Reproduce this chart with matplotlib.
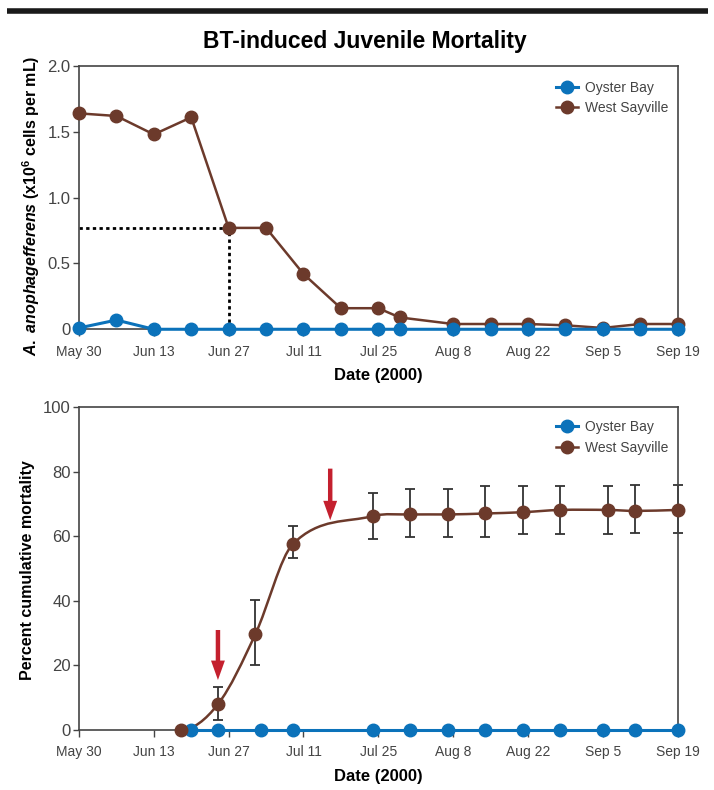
"""
BT-induced juvenile mortality: A. anophagefferens density and cumulative
mortality at Oyster Bay vs West Sayville (summer 2000).
"""
import matplotlib
matplotlib.use("Agg")
import matplotlib.pyplot as plt
from matplotlib.lines import Line2D
from matplotlib.path import Path
from matplotlib.patches import PathPatch
import numpy as np

# days counted from May 30, 2000
TICK_DAYS = [0, 14, 28, 42, 56, 70, 84, 98, 112]
TICK_LABELS = ["May 30", "Jun 13", "Jun 27", "Jul 11", "Jul 25",
               "Aug 8", "Aug 22", "Sep 5", "Sep 19"]

# top panel: cell density (x10^6 cells per mL)
cell_days = [0, 7, 14, 21, 28, 35, 42, 49, 56, 60, 70, 77, 84, 91, 98, 105, 112]
cells_oyster = [0.01, 0.07, 0, 0, 0, 0, 0, 0, 0, 0, 0, 0, 0, 0, 0, 0, 0]
cells_west = [1.64, 1.62, 1.48, 1.61, 0.77, 0.77, 0.42, 0.16, 0.16, 0.09,
              0.04, 0.04, 0.04, 0.03, 0.01, 0.04, 0.04]
half_day = 28
half_level = 0.77

# bottom panel: percent cumulative mortality
mort_days_west = [19, 26, 33, 40, 55, 62, 69, 76, 83, 90, 99, 104, 112]
mort_west = [0, 8, 29.7, 57.6, 66.3, 66.8, 66.8, 67.1, 67.5, 68.2, 68.2, 67.9, 68.2]
err_hi = [0, 13.2, 40.3, 63.2, 73.5, 74.6, 74.6, 75.6, 75.6, 75.6, 75.6, 75.9, 75.9]
err_lo = [0, 3.1, 20.1, 53.2, 59.1, 59.9, 59.9, 59.9, 60.9, 60.9, 60.9, 61.1, 61.1]
mort_days_oyster = [21, 26, 34, 40, 55, 62, 69, 76, 83, 90, 98, 104, 112]
mort_oyster = [0] * 13

# red arrows: (day, tail value, head value)
arrows = [(26, 31, 15.5), (47, 81, 65)]

BLUE = "#0b72ba"
BROWN = "#6c3a2b"
RED = "#c4202e"
GRAY = "#444444"
FONT = ["Liberation Sans", "DejaVu Sans"]

plt.rcParams["font.family"] = FONT
plt.rcParams["mathtext.fontset"] = "custom"
plt.rcParams["mathtext.rm"] = "Liberation Sans:bold"
plt.rcParams["mathtext.bf"] = "Liberation Sans:bold"
plt.rcParams["mathtext.it"] = "Liberation Sans:bold:italic"
plt.rcParams["mathtext.bfit"] = "Liberation Sans:bold:italic"

fig = plt.figure(figsize=(7.14, 7.9), dpi=100)
fig.add_artist(Line2D([0.01, 0.992], [0.9855, 0.9855], color="#1a1a1a",
                      lw=4, solid_capstyle="butt", transform=fig.transFigure))
fig.text(0.511, 0.947, "BT-induced Juvenile Mortality", ha="center", va="center",
         fontsize=16.5, fontweight="bold")

ax1 = fig.add_axes([0.1106, 0.5832, 0.8385, 0.3333])
ax2 = fig.add_axes([0.1106, 0.0759, 0.8385, 0.4085])


def style(ax, ymax, yticks, ylabels, legend_top):
    ax.set_xlim(0, 112)
    ax.set_ylim(0, ymax)
    ax.set_xticks(TICK_DAYS)
    ax.set_xticklabels(TICK_LABELS)
    ax.set_yticks(yticks)
    ax.set_yticklabels(ylabels)
    for s in ax.spines.values():
        s.set_color(GRAY)
        s.set_linewidth(1.2)
    ax.tick_params(axis="x", direction="out", length=5, width=1, color=GRAY,
                   labelsize=10, labelcolor=GRAY, pad=6)
    ax.tick_params(axis="y", direction="out", length=4, width=1, color=GRAY,
                   labelsize=12, labelcolor=GRAY, pad=2)
    ax.set_xlabel("Date (2000)", fontsize=12, fontweight="bold", labelpad=7)
    ax.legend(loc="upper right", bbox_to_anchor=(1.0, legend_top), frameon=False,
              fontsize=10, handlelength=1.6, handletextpad=0.45, labelspacing=0.45,
              borderaxespad=0.3, labelcolor=GRAY)


# ---- top panel
ax1.plot(cell_days, cells_oyster, color=BLUE, lw=2.2, marker="o", ms=9,
         label="Oyster Bay", clip_on=False, zorder=4)
ax1.plot(cell_days, cells_west, color=BROWN, lw=1.8, marker="o", ms=9,
         label="West Sayville", clip_on=False, zorder=3)
ax1.plot([0, half_day], [half_level, half_level], color="black", lw=2, ls=(0, (1.2, 1.2)),
         zorder=2)
ax1.plot([half_day, half_day], [0, half_level], color="black", lw=2, ls=(0, (1.2, 1.2)),
         zorder=2)
style(ax1, 2.0, [0, 0.5, 1.0, 1.5, 2.0], ["0", "0.5", "1.0", "1.5", "2.0"], 0.98)
ax1.set_ylabel(r"$\mathit{A.\ anophagefferens}$ (x10$^{6}$ cells per mL)",
               fontsize=11.5, fontweight="bold")
ax1.yaxis.set_label_coords(-0.062, 0.468)

# ---- bottom panel
ax2.errorbar(mort_days_west[1:], mort_west[1:],
             yerr=[np.array(mort_west[1:]) - np.array(err_lo[1:]),
                   np.array(err_hi[1:]) - np.array(mort_west[1:])],
             fmt="none", ecolor="#333333", elinewidth=1.3, capsize=3.5,
             capthick=1.3, zorder=2, clip_on=False)

# smooth curve through the West Sayville points (cubic Hermite as Bezier path)
x = np.array(mort_days_west, dtype=float)
y = np.array(mort_west, dtype=float)
m = np.zeros_like(y)
m[1:-1] = (y[2:] - y[:-2]) / (x[2:] - x[:-2])
m[-1] = (y[-1] - y[-2]) / (x[-1] - x[-2])
m[0] = 0.0  # curve leaves the first point flat
verts = [(x[0], y[0])]
codes = [Path.MOVETO]
for i in range(len(x) - 1):
    dx = x[i + 1] - x[i]
    verts += [(x[i] + dx / 3, y[i] + m[i] * dx / 3),
              (x[i + 1] - dx / 3, y[i + 1] - m[i + 1] * dx / 3),
              (x[i + 1], y[i + 1])]
    codes += [Path.CURVE4] * 3
ax2.add_patch(PathPatch(Path(verts, codes), facecolor="none", edgecolor=BROWN,
                        lw=1.8, zorder=3))

ax2.plot(mort_days_oyster, mort_oyster, color=BLUE, lw=2.2, marker="o", ms=9,
         label="Oyster Bay", clip_on=False, zorder=4)
ax2.plot(mort_days_west, mort_west, color=BROWN, lw=0, marker="o", ms=9,
         clip_on=False, zorder=5)
ax2.plot([], [], color=BROWN, lw=1.8, marker="o", ms=9, label="West Sayville")

for day, tail, head in arrows:
    ax2.annotate("", xy=(day, head), xytext=(day, tail),
                 arrowprops=dict(arrowstyle="simple,head_width=1.0,head_length=1.4,tail_width=0.32",
                                 color=RED, lw=0, shrinkA=0, shrinkB=0), zorder=6)

style(ax2, 100, [0, 20, 40, 60, 80, 100], ["0", "20", "40", "60", "80", "100"], 0.99)
ax2.set_ylabel("Percent cumulative mortality", fontsize=11.5, fontweight="bold")
ax2.yaxis.set_label_coords(-0.073, 0.495)

plt.savefig("out.png", dpi=100)
